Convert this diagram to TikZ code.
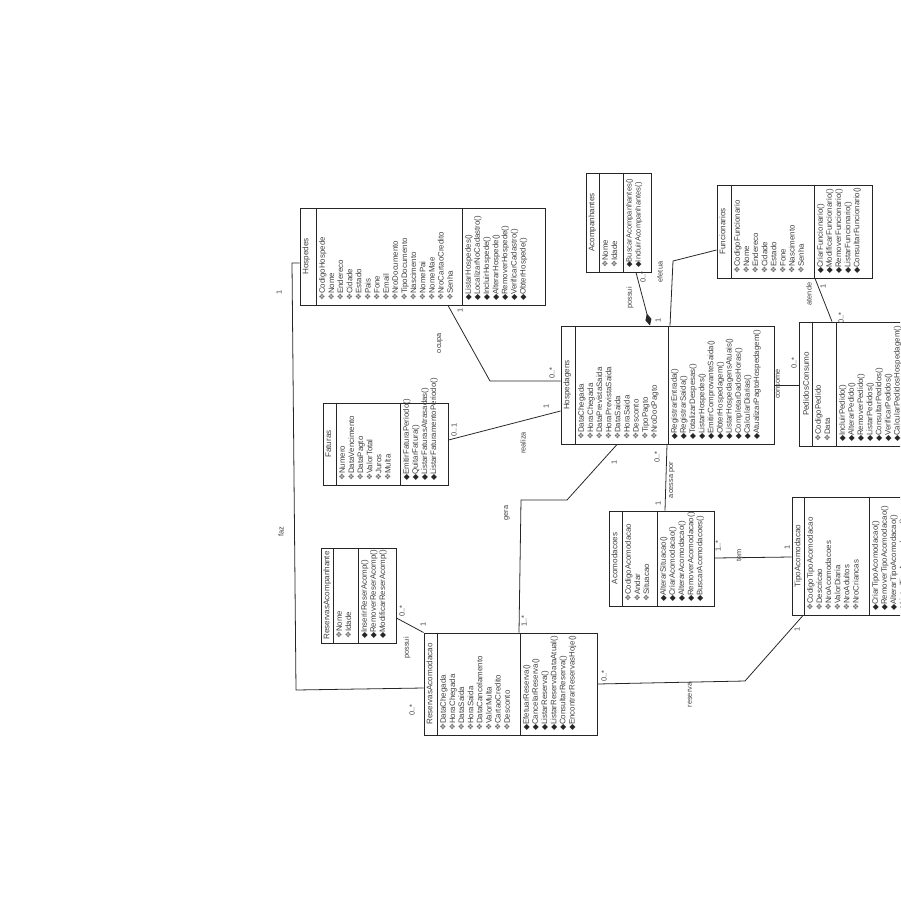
\documentclass[tikz,border=0pt]{standalone}
\usepackage{fontspec}
\setmainfont{Liberation Sans}
\newfontfamily\symfont{DejaVu Sans}
\usetikzlibrary{fit, arrows.meta}

\newcommand{\clsattr}[1]{{\symfont\textcolor{black!55}{❖}}#1}
\newcommand{\clsop}[1]{{\symfont\textcolor{black!85}{◆}}#1}

\begin{document}
\begin{tikzpicture}[x=0.02cm, y=-0.02cm,
cls/.style={draw=black!85, line width=0.55pt, inner sep=0pt},
sep/.style={draw=black!85, line width=0.5pt},
ttl/.style={rotate=90, anchor=north, inner sep=1.5pt, font=\fontsize{4.6}{5.4}\selectfont, text=black!75},
lst/.style={rotate=90, anchor=north west, align=left, inner sep=1pt, font=\fontsize{4.5}{5.2}\selectfont, text=black!75},
mult/.style={rotate=90, inner sep=0.5pt, font=\fontsize{4.2}{5}\selectfont, text=black!75},
line/.style={draw=black!85, line width=0.45pt}
]
\useasboundingbox (0,0) rectangle (900,900);
\clip (0,0) rectangle (900,900);

% Hospedes
\node[cls, fit={(300,208) (545,305)}] (hospedes) {};
\draw[sep] (316,0 |- hospedes.north) -- (316,0 |- hospedes.south);
\draw[sep] (462,0 |- hospedes.north) -- (462,0 |- hospedes.south);
\node[ttl] (hospedes-t) at (hospedes.west) {Hospedes};
\node[lst] (hospedes-a) at (317,303) {\clsattr{CodigoHospede}\\ \clsattr{Nome}\\ \clsattr{Endereco}\\
 \clsattr{Cidade}\\ \clsattr{Estado}\\ \clsattr{Pais}\\ \clsattr{Fone}\\ \clsattr{Email}\\
 \clsattr{NroDocumento}\\ \clsattr{TipoDocumento}\\ \clsattr{Nascimento}\\ \clsattr{NomePai}\\
 \clsattr{NomeMae}\\ \clsattr{NroCartaoCredito}\\ \clsattr{Senha}};
\node[lst] (hospedes-o) at (463,303) {\clsop{ListarHospedes()}\\ \clsop{LocalizarNoCadastro()}\\
 \clsop{IncluirHospede()}\\ \clsop{AlterarHospede()}\\ \clsop{RemoverHospede()}\\
 \clsop{VerificarCadastro()}\\ \clsop{ObterHospede()}};

% Acompanhantes
\node[cls, fit={(586,173) (651,272)}] (acompanhantes) {};
\draw[sep] (599,0 |- acompanhantes.north) -- (599,0 |- acompanhantes.south);
\draw[sep] (623,0 |- acompanhantes.north) -- (623,0 |- acompanhantes.south);
\node[ttl] (acompanhantes-t) at (acompanhantes.west) {Acompanhantes};
\node[lst] (acompanhantes-a) at (600,270) {\clsattr{Nome}\\ \clsattr{Idade}};
\node[lst, font=\fontsize{4.3}{5.2}\selectfont] (acompanhantes-o) at (624,270) {\clsop{BuscarAcompanhantes()}\\ \clsop{IncluirAcompanhantes()}};

% Funcionarios
\node[cls, fit={(717,185) (872,278)}] (funcionarios) {};
\draw[sep] (731,0 |- funcionarios.north) -- (731,0 |- funcionarios.south);
\draw[sep] (814,0 |- funcionarios.north) -- (814,0 |- funcionarios.south);
\node[ttl] (funcionarios-t) at (funcionarios.west) {Funcionarios};
\node[lst] (funcionarios-a) at (732,276) {\clsattr{CodigoFuncionario}\\ \clsattr{Nome}\\ \clsattr{Endereco}\\
 \clsattr{Cidade}\\ \clsattr{Estado}\\ \clsattr{Fone}\\ \clsattr{Nascimento}\\ \clsattr{Senha}};
\node[lst] (funcionarios-o) at (815,276) {\clsop{CriarFuncionario()}\\ \clsop{ModificarFuncionario()}\\
 \clsop{RemoverFuncionario()}\\ \clsop{ListarFuncionario()}\\ \clsop{ConsultarFuncionario()}};

% Hospedagens
\node[cls, fit={(561,326) (774,444)}] (hospedagens) {};
\draw[sep] (575,0 |- hospedagens.north) -- (575,0 |- hospedagens.south);
\draw[sep] (668,0 |- hospedagens.north) -- (668,0 |- hospedagens.south);
\node[ttl] (hospedagens-t) at (hospedagens.west) {Hospedagens};
\node[lst] (hospedagens-a) at (576,442) {\clsattr{DataChegada}\\ \clsattr{HoraChegada}\\ \clsattr{DataPrevistaSaida}\\
 \clsattr{HoraPrevistaSaida}\\ \clsattr{DataSaida}\\ \clsattr{HoraSaida}\\ \clsattr{Desconto}\\
 \clsattr{TipoPagto}\\ \clsattr{NroDocPagto}};
\node[lst] (hospedagens-o) at (669,442) {\clsop{RegistrarEntrada()}\\ \clsop{RegistrarSaida()}\\
 \clsop{TotalizarDespesas()}\\ \clsop{ListarHospedes()}\\ \clsop{EmitirComprovanteSaida()}\\
 \clsop{ObterHospedagem()}\\ \clsop{ListarHospedagensAtuais()}\\ \clsop{CompletarDadosHoras()}\\
 \clsop{CalcularDiarias()}\\ \clsop{AtualizarPagtoHospedagem()}};

% PedidosConsumo
\node[cls, fit={(799,322) (910,446)}] (pedidos) {};
\draw[sep] (812,0 |- pedidos.north) -- (812,0 |- pedidos.south);
\draw[sep] (836,0 |- pedidos.north) -- (836,0 |- pedidos.south);
\node[ttl] (pedidos-t) at (800,384) {PedidosConsumo};
\node[lst] (pedidos-a) at (813,444) {\clsattr{CodigoPedido}\\ \clsattr{Data}};
\node[lst] (pedidos-o) at (837,444) {\clsop{IncluirPedido()}\\ \clsop{AlterarPedido()}\\ \clsop{RemoverPedido()}\\
 \clsop{ListarPedidos()}\\ \clsop{ConsultarPedidos()}\\ \clsop{VerificarPedidos()}\\
 \clsop{CalcularPedidosHospedagem()}};

% Faturas
\node[cls, fit={(323,403) (448,485)}] (faturas) {};
\draw[sep] (336,0 |- faturas.north) -- (336,0 |- faturas.south);
\draw[sep] (400,0 |- faturas.north) -- (400,0 |- faturas.south);
\node[ttl] (faturas-t) at (faturas.west) {Faturas};
\node[lst] (faturas-a) at (337,483) {\clsattr{Numero}\\ \clsattr{DataVencimento}\\ \clsattr{DataPagto}\\
 \clsattr{ValorTotal}\\ \clsattr{Juros}\\ \clsattr{Multa}};
\node[lst] (faturas-o) at (401,483) {\clsop{EmitirFaturaPeriodo()}\\ \clsop{QuitarFatura()}\\
 \clsop{ListarFaturasAtrasadas()}\\ \clsop{ListarFaturamentoPeriodo()}};

% Acomodacoes
\node[cls, fit={(609,511) (714,606)}] (acomodacoes) {};
\draw[sep] (622,0 |- acomodacoes.north) -- (622,0 |- acomodacoes.south);
\draw[sep] (657,0 |- acomodacoes.north) -- (657,0 |- acomodacoes.south);
\node[ttl] (acomodacoes-t) at (acomodacoes.west) {Acomodacoes};
\node[lst] (acomodacoes-a) at (623,604) {\clsattr{CodigoAcomodacao}\\ \clsattr{Andar}\\ \clsattr{Situacao}};
\node[lst] (acomodacoes-o) at (658,604) {\clsop{AlterarSituacao()}\\ \clsop{CriarAcomodacao()}\\
 \clsop{AlterarAcomodacao()}\\ \clsop{RemoverAcomodacao()}\\ \clsop{BuscarAcomodacoes()}};

% TipoAcomodacao
\node[cls, fit={(792,497) (910,615)}] (tipoacomodacao) {};
\draw[sep] (804,0 |- tipoacomodacao.north) -- (804,0 |- tipoacomodacao.south);
\draw[sep] (869,0 |- tipoacomodacao.north) -- (869,0 |- tipoacomodacao.south);
\node[ttl] (tipoacomodacao-t) at (tipoacomodacao.west) {TipoAcomodacao};
\node[lst] (tipoacomodacao-a) at (805,613) {\clsattr{CodigoTipoAcomodacao}\\ \clsattr{Descricao}\\
 \clsattr{NroAcomodacoes}\\ \clsattr{ValorDiaria}\\ \clsattr{NroAdultos}\\ \clsattr{NroCriancas}};
\node[lst] (tipoacomodacao-o) at (870,613) {\clsop{CriarTipoAcomodacao()}\\ \clsop{RemoverTipoAcomodacao()}\\
 \clsop{AlterarTipoAcomodacao()}\\ \clsop{ListarTipoAcomodacao()}};

% ReservasAcompanhante
\node[cls, fit={(321,548) (396,643)}] (resacomp) {};
\draw[sep] (333,0 |- resacomp.north) -- (333,0 |- resacomp.south);
\draw[sep] (358,0 |- resacomp.north) -- (358,0 |- resacomp.south);
\node[ttl] (resacomp-t) at (resacomp.west) {ReservasAcompanhante};
\node[lst] (resacomp-a) at (334,641) {\clsattr{Nome}\\ \clsattr{Idade}};
\node[lst] (resacomp-o) at (359,641) {\clsop{InserirReserAcomp()}\\ \clsop{RemoverReserAcomp()}\\
 \clsop{ModificarReserAcomp()}};

% ReservasAcomodacao
\node[cls, fit={(424,633) (597,735)}] (resacomod) {};
\draw[sep] (437,0 |- resacomod.north) -- (437,0 |- resacomod.south);
\draw[sep] (520,0 |- resacomod.north) -- (520,0 |- resacomod.south);
\node[ttl] (resacomod-t) at (resacomod.west) {ReservasAcomodacao};
\node[lst] (resacomod-a) at (438,733) {\clsattr{DataChegada}\\ \clsattr{HoraChegada}\\ \clsattr{DataSaida}\\
 \clsattr{HoraSaida}\\ \clsattr{DataCancelamento}\\ \clsattr{ValorMulta}\\ \clsattr{CartaoCredito}\\
 \clsattr{Desconto}};
\node[lst] (resacomod-o) at (521,733) {\clsop{EfetuarReserva()}\\ \clsop{CancelarReserva()}\\
 \clsop{ListarReserva()}\\ \clsop{ListarReservaDataAtual()}\\ \clsop{ConsultarReserva()}\\
 \clsop{EncontrarReservasHoje()}};

% associations
\path[line] (448,0 |- hospedes.south) -- (490,381) -- (hospedagens.west |- 0,381);
\node[mult] (m-ocupa-1) at (460,310) {1};
\node[mult] (m-ocupa-2) at (552,373) {0..*};
\node[mult] (l-ocupa) at (440,343) {ocupa};

\path[line] (faturas.east |- 0,440) -- (hospedagens.west |- 0,411);
\node[mult] (m-realiza-1) at (454,430) {0..1};
\node[mult] (m-realiza-2) at (546,406) {1};
\node[mult] (l-realiza) at (523,443) {realiza};

\path[line] (617,0 |- hospedagens.south) -- (567,500) -- (521,500) -- (519,0 |- resacomod.north);
\node[mult] (m-gera-1) at (614,462) {1};
\node[mult] (m-gera-2) at (524,621) {1..*};
\node[mult] (l-gera) at (507,513) {gera};

\path[line] (667,0 |- hospedagens.south) -- (665,0 |- acomodacoes.north);
\node[mult] (m-acessa-1) at (657,457) {0..*};
\node[mult] (m-acessa-2) at (658,503) {1};
\node[mult] (l-acessa) at (672,480) {acessa por};

\path[line, -{Diamond[length=7pt, width=3.5pt]}] (636,0 |- acompanhantes.south) -- (650,0 |- hospedagens.north);
\node[mult] (m-possui-1) at (643,277) {0..*};
\node[mult] (m-possui-2) at (658,320) {1};
\node[mult] (l-possui) at (630,298) {possui};

\path[line] (funcionarios.west |- 0,250) -- (673,261) -- (670,0 |- hospedagens.north);
\node[mult] (l-efetua) at (660,272) {efetua};

\path[line] (815,0 |- funcionarios.south) -- (832,0 |- pedidos.north);
\node[mult] (m-atende-1) at (823,286) {1};
\node[mult] (m-atende-2) at (841,318) {0..*};
\node[mult] (l-atende) at (809,294) {atende};

\path[line] (hospedagens.east |- 0,385) -- (pedidos.west |- 0,385);
\node[mult] (m-consome) at (794,363) {0..*};
\node[mult] (l-consome) at (778,384) {consome};

\path[line] (acomodacoes.east |- 0,558) -- (tipoacomodacao.west |- 0,557);
\node[mult] (m-tem-1) at (718,546) {1..*};
\node[mult] (m-tem-2) at (787,547) {1};
\node[mult] (l-tem) at (739,555) {tem};

\path[line] (resacomod.east |- 0,684) -- (745,681) -- (803,0 |- tipoacomodacao.south);
\node[mult] (m-reserva-1) at (604,676) {0..*};
\node[mult] (m-reserva-2) at (797,629) {1};
\node[mult] (l-reserva) at (690,695) {reserva};

\path[line] (hospedes.west |- 0,263) -- (292,263) -- (296,690) -- (resacomod.west |- 0,688);
\node[mult] (m-faz-1) at (279,292) {1};
\node[mult] (m-faz-2) at (412,710) {0..*};
\node[mult] (l-faz) at (281,532) {faz};

\path[line] (resacomp.east |- 0,618) -- (resacomod.north west);
\node[mult] (m-possui2-1) at (402,611) {0..*};
\node[mult] (m-possui2-2) at (423,624) {1};
\node[mult] (l-possui2) at (407,648) {possui};
\end{tikzpicture}
\end{document}
